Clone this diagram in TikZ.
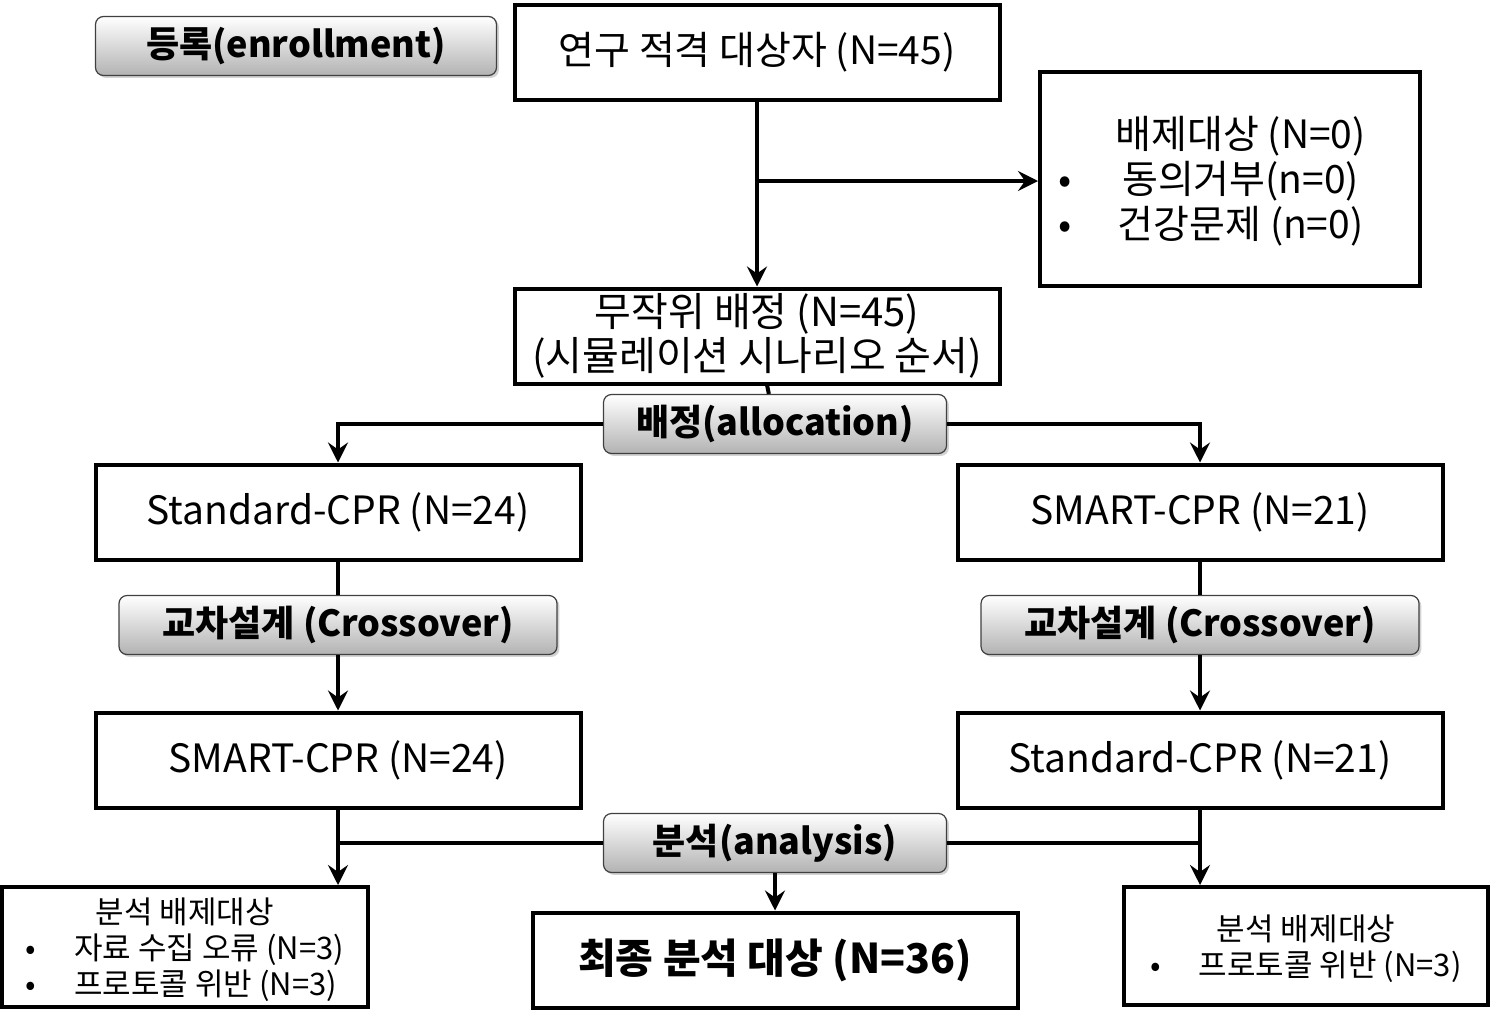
\documentclass[tikz,border=0pt]{standalone}
\usepackage{fontspec}
\setmainfont{Noto Sans CJK KR}
\usetikzlibrary{arrows.meta,shadows}

\begin{document}
\begin{tikzpicture}[x=0.5pt,y=-0.5pt,
  box/.style={draw,line width=2pt,minimum width=242.5pt,minimum height=47.5pt,inner sep=0pt,
    font=\fontsize{19.5}{22}\selectfont},
  tag/.style={draw=black!75,line width=0.6pt,rounded corners=4pt,top color=white,bottom color=black!30,
    drop shadow={opacity=0.35,shadow xshift=1.2pt,shadow yshift=-1.2pt},
    minimum height=29.5pt,inner sep=0pt,font=\fontsize{18}{20}\selectfont\bfseries},
  link/.style={line width=2pt},
  arr/.style={line width=2pt,-{Stealth[length=10pt,width=10pt,inset=3.5pt]}}]
\useasboundingbox (0,0) rectangle (1492,1017);

% labels on the left / in the middle
\node[tag,minimum width=200.5pt] (enroll) at (296,46) {등록(enrollment)};

% enrollment
\node[box] (elig) at (757,52) {연구 적격 대상자 (N=45)};
\node[box,minimum width=190pt,minimum height=107pt] (excl) at (1230,179)
  {\raisebox{-2.5pt}[\height][\depth]{\begin{tabular}{@{}l@{\hspace{22pt}}c@{\hspace{18pt}}}
   & 배제대상 (N=0)\\
   • & 동의거부(n=0)\\
   • & 건강문제 (n=0)
   \end{tabular}}};
\node[box,align=center,font=\fontsize{20}{22}\selectfont] (rand) at (757,336) {무작위 배정 (N=45)\\(시뮬레이션 시나리오 순서)};

% allocation
\node[tag,minimum width=171.5pt] (alloc) at (775,424) {배정(allocation)};
\node[box] (stdA) at (338,512) {Standard-CPR (N=24)};
\node[box] (smartA) at (1200,512) {SMART-CPR (N=21)};
\node[tag,minimum width=219pt] (crossA) at (338,625) {교차설계 (Crossover)};
\node[tag,minimum width=219pt] (crossB) at (1200,625) {교차설계 (Crossover)};
\node[box] (smartB) at (338,760) {SMART-CPR (N=24)};
\node[box] (stdB) at (1200,760) {Standard-CPR (N=21)};

% analysis
\node[tag,minimum width=171.5pt] (ana) at (775,843) {분석(analysis)};
\node[box,minimum width=183pt,minimum height=60pt,font=\fontsize{15.5}{18}\selectfont] (exclL) at (185,947)
  {\raisebox{-2.5pt}[\height][\depth]{\begin{tabular}{@{}l@{\hspace{19pt}}l@{}}
   \multicolumn{2}{c}{분석 배제대상}\\
   • & 자료 수집 오류 (N=3)\\
   • & 프로토콜 위반 (N=3)
   \end{tabular}}};
\node[box,font=\fontsize{20.5}{22}\selectfont\bfseries] (final) at (775,960) {최종 분석 대상 (N=36)};
\node[box,minimum width=182pt,minimum height=59pt,font=\fontsize{15.5}{18}\selectfont] (exclR) at (1306,946)
  {\raisebox{-2.5pt}[\height][\depth]{\begin{tabular}{@{}l@{\hspace{19pt}}l@{}}
   \multicolumn{2}{c}{분석 배제대상}\\
   • & 프로토콜 위반 (N=3)
   \end{tabular}}};

\coordinate (split) at (757,181);
\draw[arr] (elig) -- (rand);
\draw[arr] (split) -- (split -| excl.west);
\draw[link] (rand) -- (alloc);
\draw[arr] (alloc.west) -| (stdA);
\draw[arr] (alloc.east) -| (smartA);
\draw[link] (stdA) -- (crossA);
\draw[link] (smartA) -- (crossB);
\draw[arr] (crossA) -- (smartB);
\draw[arr] (crossB) -- (stdB);
\draw[link] (smartB) |- (ana.west);
\draw[link] (stdB) |- (ana.east);
\draw[arr] (smartB.south) -- (smartB.south |- exclL.north);
\draw[arr] (stdB.south) -- (stdB.south |- exclR.north);
\draw[arr] (ana) -- (final);
\end{tikzpicture}
\end{document}
